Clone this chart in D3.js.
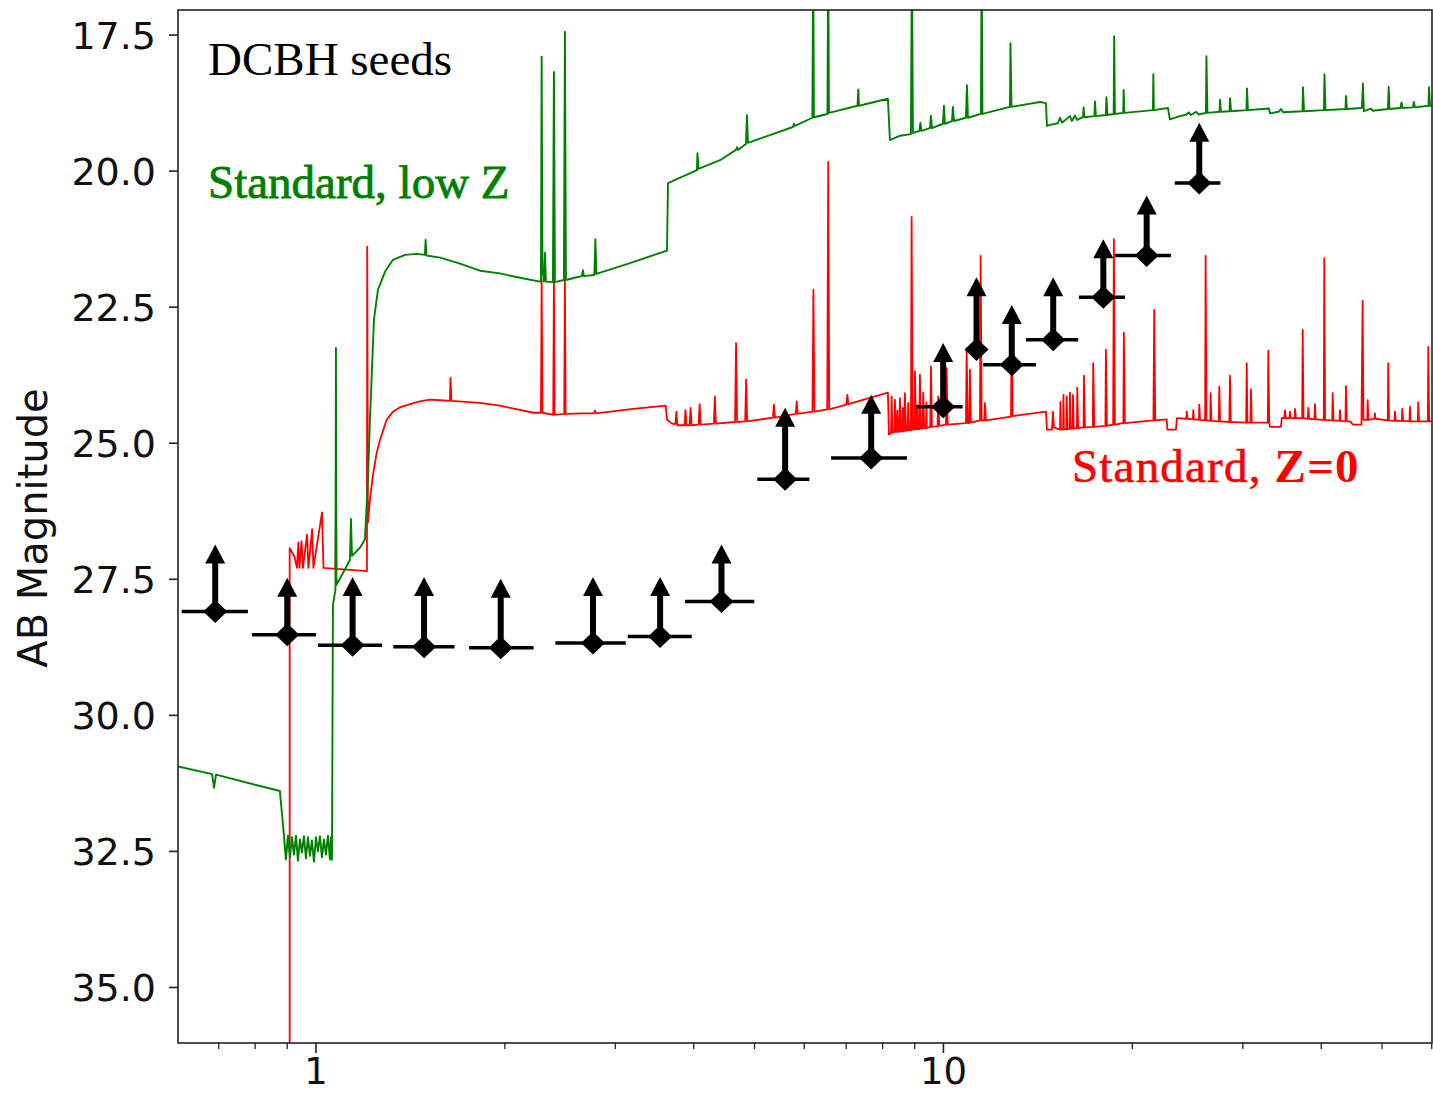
<!DOCTYPE html>
<html><head><meta charset="utf-8">
<script src="https://cdn.jsdelivr.net/npm/d3@7"></script>
<style>body{margin:0;background:#fff}</style>
</head><body>
<svg id="chart" width="1433" height="1093"></svg>
<script>
// ---- DATA (wavelength in micron, AB magnitude) ----
const lowZSpectrum = [
[0.603,30.94],[0.683,31.08],[0.688,31.33],[0.693,31.09],[0.876,31.39],[0.889,32.19],
[0.8957,32.65],[0.9023,32.21],[0.9090,32.61],[0.9157,32.24],[0.9225,32.56],[0.9293,32.21],[0.9361,32.67],[0.9430,32.28],[0.9499,32.52],[0.9569,32.22],[0.9640,32.63],[0.9711,32.24],[0.9782,32.58],[0.9854,32.30],[0.9927,32.69],[1.0000,32.24],[1.0074,32.50],[1.0148,32.22],[1.0223,32.61],[1.0298,32.28],[1.0374,32.56],[1.0450,32.21],[1.0527,32.65],[1.0566,32.24],[1.0605,32.65],
[1.0644,27.97],[1.0742,27.69],[1.0761,23.25],[1.0781,27.60],[1.1124,27.32],[1.1329,27.14],[1.1371,26.39],[1.1413,27.07],[1.1752,26.92],[1.1969,26.77],[1.2102,25.67],[1.2191,24.57],[1.2281,23.65],[1.2372,22.73],[1.2556,22.18],[1.2883,21.85],[1.3267,21.63],[1.3865,21.54],[1.4486,21.52],[1.4917,21.54],[1.4955,21.26],[1.4999,21.55],[1.5766,21.59],[1.6963,21.70],[1.8251,21.83],[1.9643,21.88],[2.1139,21.96],[2.2750,22.03],[2.2834,22.02],[2.2892,17.90],[2.2960,21.82],[2.3087,22.03],[2.3171,21.50],[2.3256,22.03],[2.3860,22.04],[2.3948,18.18],[2.4036,22.04],[2.4843,22.0],[2.4934,17.44],[2.5026,22.0],[2.5861,21.96],[2.6534,21.93],[2.6632,21.82],[2.6730,21.93],[2.7780,21.91],[2.7883,21.25],[2.7985,21.89],[3.1652,21.69],[3.6262,21.46],
[3.6396,20.22],[4.0475,19.98],[4.0549,19.67],[4.0698,19.96],[4.4046,19.80],[4.6706,19.61],[4.6878,19.56],[4.7050,19.61],[4.8449,19.50],[4.8627,18.97],[4.8806,19.48],[5.1951,19.37],[5.7565,19.19],[5.7776,19.13],[5.7988,19.17],[6.1827,19.02],[6.2008,16.0],[6.2168,19.01],[6.5334,18.95],[6.5526,16.0],[6.5695,18.93],[7.2950,18.80],[7.3164,18.50],[7.3353,18.80],[8.1564,18.67],
[8.2165,19.43],[8.5240,19.35],[8.8748,19.32],[8.9074,16.0],[8.9402,19.30],[9.1560,19.26],[9.1897,19.11],[9.2234,19.26],[9.5167,19.21],[9.5516,18.98],[9.5867,19.21],[9.9817,19.13],[10.018,18.80],[10.055,19.13],[10.317,19.08],[10.355,18.82],[10.393,19.08],[10.861,19.02],[10.901,18.42],[10.941,19.02],[11.476,18.95],[11.506,16.0],[11.539,18.95],[12.765,18.82],[12.789,17.65],[12.836,18.82],[14.251,18.73],[14.568,18.75],
[14.621,19.17],[14.783,19.15],[15.224,19.12],[15.336,19.02],[15.45,19.11],[15.909,18.99],[16.02,19.08],[16.204,18.98],[16.33,19.06],[16.685,19.01],[16.728,18.83],[16.777,19.01],[17.403,18.99],[17.435,18.72],[17.499,18.99],[18.151,18.97],[18.185,18.64],[18.251,18.97],[18.676,18.95],[18.710,17.52],[18.759,18.95],[19.339,18.93],[19.374,18.51],[19.424,18.93],[21.569,18.88],[21.601,18.22],[21.649,18.88],[22.790,18.84],
[22.958,19.05],[23.818,18.99],[24.4,18.96],[24.6,18.92],[24.8,18.97],[25.3,18.91],[25.5,18.96],[26.200,18.93],[26.248,17.89],[26.345,18.93],[27.54,18.91],[27.59,18.69],[27.69,18.91],[28.57,18.90],[28.62,18.66],[28.73,18.90],[30.40,18.88],[30.46,18.48],[30.57,18.88],[33.02,18.85],
[33.14,18.94],[34.2,18.91],[34.5,18.86],[34.8,18.92],[37.34,18.90],[37.41,18.46],[37.55,18.90],[40.40,18.88],[40.48,18.22],[40.63,18.88],[43.72,18.86],[43.80,18.62],[43.96,18.86],[46.44,18.84],[46.61,18.39],[46.78,18.90],[48.0,18.85],[48.3,18.89],[51.09,18.86],[51.24,18.45],[51.38,18.86],[53.5,18.84],[53.7,18.74],[53.9,18.84],[56.0,18.83],[56.2,18.73],[56.4,18.83],[59.29,18.80],[59.40,18.46],[59.62,18.80],[60.06,18.80]
];

const zeroZSpectrum = [
[0.9081,40],[0.9081,26.93],[0.9239,27.08],[0.9327,27.29],[0.9375,26.82],[0.9413,27.29],[0.9485,26.80],[0.9534,27.29],[0.9679,26.68],[0.9729,27.29],[0.9861,26.58],[0.9908,27.29],[1.0226,26.27],[1.0279,27.29],[1.0742,27.31],[1.0761,25.98],[1.0781,27.31],[1.2058,27.35],[1.2071,21.39],[1.2102,26.46],[1.2191,26.04],[1.2327,25.58],[1.2496,25.18],[1.2648,24.94],[1.2964,24.57],[1.3267,24.42],[1.3613,24.34],[1.4121,24.28],[1.4641,24.23],[1.5190,24.20],[1.5766,24.21],[1.6352,24.22],[1.6382,23.80],[1.6443,24.22],[1.8251,24.26],[1.9643,24.31],[2.2198,24.44],[2.2834,24.44],[2.2892,22.0],[2.2960,24.44],[2.3887,24.48],[2.3948,22.04],[2.4010,24.48],[2.4870,24.46],[2.4934,22.0],[2.4998,24.46],[2.6661,24.45],[2.7730,24.45],[2.7832,24.40],[2.7934,24.45],[3.2037,24.37],[3.6090,24.31],
[3.6262,24.57],[3.6933,24.64],[3.740,24.65],[3.7535,24.42],[3.7673,24.67],[3.867,24.67],[3.8809,24.39],[3.8952,24.67],[3.940,24.67],[3.9543,24.35],[3.9689,24.67],[4.073,24.66],[4.0878,24.28],[4.1029,24.66],[4.307,24.64],[4.3230,24.14],[4.3388,24.64],[4.655,24.61],[4.6723,23.16],[4.6895,24.61],[4.831,24.60],[4.8485,23.83],[4.8663,24.60],[5.349,24.53],[5.3690,24.29],[5.3887,24.53],[5.816,24.46],[5.8373,24.23],[5.8587,24.46],[6.183,24.42],[6.2054,22.18],[6.2282,24.42],[6.529,24.38],[6.5526,19.83],[6.5768,24.38],[7.003,24.29],[7.0285,24.11],[7.0544,24.28],[8.1564,24.07],
[8.1865,24.84],[8.25,24.82],[8.2680,24.14],[8.2924,24.80],[8.35,24.80],[8.3688,24.20],[8.3995,24.79],[8.43,24.79],[8.445,24.40],[8.46,24.79],[8.50,24.79],[8.5240,24.17],[8.5553,24.78],[8.60,24.78],[8.615,24.35],[8.63,24.78],[8.66,24.78],[8.6818,24.08],[8.7137,24.77],[8.765,24.77],[8.7874,24.26],[8.8198,24.76],[8.875,24.76],[8.8976,20.84],[8.9305,24.75],[8.985,24.75],[9.0060,23.68],[9.0392,24.74],[9.07,24.74],[9.085,24.30],[9.10,24.74],[9.150,24.74],[9.1729,23.74],[9.2065,24.73],[9.262,24.73],[9.2845,24.07],[9.3186,24.72],[9.38,24.72],[9.395,24.25],[9.41,24.72],[9.528,24.70],[9.5516,23.59],[9.5867,24.70],[9.787,24.69],[9.8109,24.14],[9.8471,24.68],[10.093,24.66],[10.118,23.62],[10.155,24.66],[10.862,24.63],[10.889,23.28],[10.929,24.63],[10.994,24.63],[11.021,23.65],[11.062,24.62],[11.435,24.58],[11.463,21.56],[11.506,24.58],[11.617,24.58],[11.646,24.26],[11.689,24.58],[12.815,24.51],[12.846,22.55],[12.893,24.50],[14.568,24.42],
[14.621,24.75],[14.892,24.75],[14.946,24.42],[15.002,24.71],[15.336,24.75],[15.364,24.24],[15.392,24.75],[15.51,24.75],[15.534,24.11],[15.562,24.74],[15.70,24.74],[15.718,24.14],[15.764,24.74],[15.89,24.73],[15.909,24.07],[15.956,24.73],[16.065,24.73],[16.085,24.11],[16.133,24.73],[16.32,24.72],[16.341,23.98],[16.389,24.72],[16.72,24.71],[16.746,23.76],[16.808,24.71],[17.30,24.70],[17.327,23.53],[17.391,24.70],[18.12,24.68],[18.151,23.28],[18.218,24.68],[18.642,24.66],[18.690,21.25],[18.759,24.66],[19.353,24.63],[19.388,22.97],[19.459,24.63],[21.609,24.58],[21.673,22.55],[21.752,24.58],[22.682,24.56],
[22.749,24.75],[23.470,24.75],[23.556,24.54],[24.39,24.55],[24.415,24.42],[24.487,24.55],[24.98,24.56],[25.011,24.39],[25.084,24.56],[25.54,24.57],[25.567,24.29],[25.642,24.57],[26.12,24.58],[26.171,21.56],[26.248,24.58],[26.62,24.59],[26.656,24.08],[26.735,24.59],[27.47,24.60],[27.515,23.96],[27.600,24.60],[28.55,24.61],[28.62,23.76],[28.705,24.61],[30.37,24.62],[30.43,23.53],[30.51,24.62],[30.85,24.62],[30.91,24.01],[31.00,24.62],[32.88,24.62],[32.94,23.30],[33.05,24.62],
[33.14,24.70],[34.50,24.70],[34.62,24.53],[34.94,24.54],[35.00,24.39],[35.13,24.54],[35.60,24.54],[35.66,24.42],[35.79,24.54],[36.26,24.54],[36.32,24.37],[36.46,24.54],[37.30,24.54],[37.37,22.92],[37.48,24.54],[38.08,24.55],[38.15,24.35],[38.26,24.55],[39.02,24.56],[39.09,24.28],[39.21,24.56],[40.38,24.57],[40.45,21.60],[40.57,24.57],[41.65,24.58],[41.72,24.08],[41.84,24.58],[42.78,24.59],[42.85,24.39],[42.97,24.59],[43.72,24.60],[43.80,23.95],[43.93,24.60],[44.45,24.60],[44.94,24.66],[46.36,24.66],[46.56,22.38],[46.70,24.57],[47.36,24.57],[47.43,24.21],[47.57,24.57],[48.65,24.55],[48.72,24.45],[48.80,24.55],[51.06,24.58],[51.15,23.53],[51.30,24.58],[52.34,24.59],[52.42,24.42],[52.58,24.59],[53.77,24.59],[53.85,24.37],[54.01,24.59],[55.30,24.60],[55.39,24.33],[55.55,24.60],[57.01,24.60],[57.10,24.25],[57.27,24.60],[59.15,24.60],[59.25,23.23],[59.43,24.60],[60.06,24.60]
];

// lower limits (magnitude) with band width
const limitWave   = [0.691,0.900,1.144,1.487,1.970,2.764,3.536,4.429,5.594,7.671,9.99,11.29,12.85,14.96,17.98,21.08,25.57];
const limitMag    = [28.09,28.52,28.71,28.74,28.76,28.67,28.55,27.91,25.66,25.27,24.33,23.28,23.56,23.10,22.32,21.55,20.22];
const limitWaveLo = [0.611,0.791,1.008,1.328,1.754,2.407,3.140,3.874,5.050,6.622,9.065,11.29,11.57,13.54,16.44,18.76,23.37];
const limitWaveHi = [0.779,1.000,1.275,1.663,2.223,3.117,3.971,4.995,6.114,8.747,10.73,11.29,14.04,16.40,19.47,23.04,27.63];
const limitArrowTip = [26.86,27.47,27.46,27.46,27.49,27.46,27.46,26.86,24.35,24.11,23.16,21.95,22.46,21.95,21.25,20.45,19.11];

const yTickValues = [17.5,20.0,22.5,25.0,27.5,30.0,32.5,35.0];
const xMajorTicks = [1,10];
const xTickLabels = ["1","10"];
const xMinorTicks = [0.7,0.8,0.9,2,3,4,5,6,7,8,9,20,30,40,50,60];
const yAxisTitle = "AB Magnitude";
const titleText = "DCBH seeds";
const lowZLabel = "Standard, low Z";
const zeroZLabelA = "Standard, ";
const zeroZLabelB = "Z=0";

// ---- LAYOUT ----
const L=178, R=1432, T=10, B=1043;
const svg = d3.select("#chart");
const x = d3.scaleLog().domain([0.6028,60.06]).range([L,R]);
const y = d3.scaleLinear().domain([17.04,36.02]).range([T,B]);

svg.append("defs").append("clipPath").attr("id","clip")
  .append("rect").attr("x",L).attr("y",T).attr("width",R-L).attr("height",B-T);

const line = d3.line().x(d=>x(d[0])).y(d=>y(d[1]));
const g = svg.append("g").attr("clip-path","url(#clip)");
g.append("path").datum(zeroZSpectrum).attr("d",line)
  .attr("fill","none").attr("stroke","#ff0000").attr("stroke-width",1.8).attr("stroke-linejoin","round");
g.append("path").datum(lowZSpectrum).attr("d",line)
  .attr("fill","none").attr("stroke","#008000").attr("stroke-width",1.9).attr("stroke-linejoin","round");

// limits
const lims = limitWave.map((w,i)=>({w, m:limitMag[i], lo:limitWaveLo[i], hi:limitWaveHi[i], tip:limitArrowTip[i]}));
const lg = svg.append("g");
lims.forEach(d=>{
  const cx=x(d.w), cy=y(d.m), ty=y(d.tip);
  if (d.hi>d.lo) lg.append("line").attr("x1",x(d.lo)).attr("x2",x(d.hi)).attr("y1",cy).attr("y2",cy)
     .attr("stroke","#000").attr("stroke-width",3.5);
  lg.append("line").attr("x1",cx).attr("x2",cx).attr("y1",cy).attr("y2",ty+16)
     .attr("stroke","#000").attr("stroke-width",6);
  lg.append("path").attr("d",`M${cx},${ty} L${cx+10},${ty+19} L${cx-10},${ty+19} Z`).attr("fill","#000");
  lg.append("path").attr("d",`M${cx},${cy-11.5} L${cx+12},${cy} L${cx},${cy+11.5} L${cx-12},${cy} Z`).attr("fill","#000");
});

// axes
const axG = svg.append("g");
axG.append("rect").attr("x",L).attr("y",T).attr("width",R-L).attr("height",B-T)
  .attr("fill","none").attr("stroke","#222").attr("stroke-width",1.6);
yTickValues.forEach(v=>{
  axG.append("line").attr("x1",L-9).attr("x2",L).attr("y1",y(v)).attr("y2",y(v)).attr("stroke","#222").attr("stroke-width",1.6);
  axG.append("text").attr("x",L-22).attr("y",y(v)).attr("dy","0.36em").attr("text-anchor","end")
    .attr("font-family","DejaVu Sans").attr("font-size",38).attr("fill","#111").text(v.toFixed(1));
});
xMajorTicks.forEach((v,i)=>{
  axG.append("line").attr("x1",x(v)).attr("x2",x(v)).attr("y1",B).attr("y2",B+10).attr("stroke","#222").attr("stroke-width",1.6);
  axG.append("text").attr("x",x(v)).attr("y",1084).attr("text-anchor","middle")
    .attr("font-family","DejaVu Sans").attr("font-size",37).attr("fill","#111").text(xTickLabels[i]);
});
xMinorTicks.forEach(v=>{
  axG.append("line").attr("x1",x(v)).attr("x2",x(v)).attr("y1",B).attr("y2",B+6).attr("stroke","#222").attr("stroke-width",1.3);
});
axG.append("text").attr("transform","translate(47,528) rotate(-90)").attr("text-anchor","middle")
  .attr("font-family","DejaVu Sans").attr("font-size",40).attr("fill","#111").text(yAxisTitle);

// annotations
svg.append("text").attr("x",208).attr("y",75).attr("font-family","Liberation Serif").attr("font-size",47)
  .attr("fill","#000").text(titleText);
svg.append("text").attr("x",208).attr("y",198).attr("font-family","Liberation Serif").attr("font-size",47)
  .attr("fill","#008000").attr("stroke","#008000").attr("stroke-width",0.8).text(lowZLabel);
const t3 = svg.append("text").attr("x",1072).attr("y",482).attr("font-family","Liberation Serif").attr("font-size",47)
  .attr("letter-spacing",1.2).attr("fill","#ff0000");
t3.append("tspan").attr("stroke","#ff0000").attr("stroke-width",0.6).text(zeroZLabelA);
t3.append("tspan").attr("font-weight","bold").text(zeroZLabelB);
</script>
</body></html>
